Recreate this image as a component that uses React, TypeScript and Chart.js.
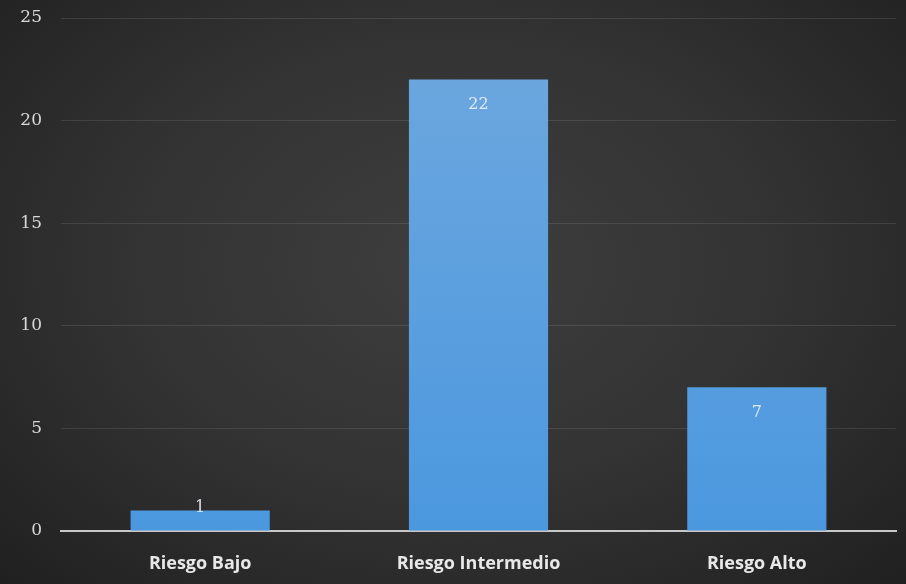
import React, { useEffect, useRef } from "react";
import { Chart, registerables } from "chart.js";

Chart.register(...registerables);

const categories = ["Riesgo Bajo", "Riesgo Intermedio", "Riesgo Alto"];
const values = [1, 22, 7];
const yTicks = [0, 5, 10, 15, 20, 25];

const valueLabelPlugin = {
  id: "valueLabels",
  afterDatasetsDraw(chart: any) {
    const ctx = chart.ctx;
    const meta = chart.getDatasetMeta(0);
    ctx.save();
    ctx.font = "16px 'DejaVu Serif', serif";
    ctx.fillStyle = "rgba(235,242,250,0.9)";
    ctx.textAlign = "center";
    ctx.textBaseline = "middle";
    meta.data.forEach((bar: any, i: number) => {
      const h = bar.base - bar.y;
      const y = h < 30 ? bar.y - 3 : bar.y + 25;
      ctx.fillText(String(values[i]), bar.x, y);
    });
    ctx.restore();
  },
};

export default function App() {
  const ref = useRef<HTMLCanvasElement>(null);
  useEffect(() => {
    if (!ref.current) return;
    const chart = new Chart(ref.current, {
      type: "bar",
      data: {
        labels: categories,
        datasets: [
          {
            data: values,
            backgroundColor: (c: any) => {
              const area = c.chart.chartArea;
              if (!area) return "#5b9bd5";
              const g = c.chart.ctx.createLinearGradient(0, area.top, 0, area.bottom);
              g.addColorStop(0, "#6fa8de");
              g.addColorStop(1, "#4b98df");
              return g;
            },
            borderWidth: 0,
            barPercentage: 0.5,
            categoryPercentage: 1,
          },
        ],
      },
      options: {
        animation: false,
        responsive: false,
        layout: { padding: { top: 18, right: 10, left: 0, bottom: 0 } },
        plugins: { legend: { display: false }, tooltip: { enabled: false } },
        scales: {
          x: {
            grid: { display: false },
            border: { color: "#c8c8c8", width: 2 },
            ticks: {
              color: "#e8e8e8",
              font: { family: "'Open Sans', sans-serif", size: 18, weight: "bold" },
              padding: 14,
            },
            afterFit: (s: any) => {
              s.height = 53;
              s.paddingLeft = 0;
              s.paddingRight = 0;
            },
          },
          y: {
            min: 0,
            max: 25,
            afterBuildTicks: (s: any) => {
              s.ticks = yTicks.map((v) => ({ value: v }));
            },
            grid: { color: "rgba(255,255,255,0.10)", drawTicks: false, lineWidth: 1 },
            border: { display: false },
            ticks: {
              color: "#d8d8d8",
              font: { family: "'DejaVu Serif', serif", size: 17 },
              padding: 19,
            },
            afterFit: (s: any) => {
              s.width = 61;
              s.paddingTop = 0;
              s.paddingBottom = 0;
            },
          },
        },
      },
      plugins: [valueLabelPlugin],
    });
    return () => chart.destroy();
  }, []);
  return (
    <div
      style={{
        position: "fixed",
        left: 0,
        top: 0,
        width: 906,
        height: 584,
        background: "radial-gradient(ellipse at 50% 45%, #3e3e3e 0%, #333333 50%, #202020 100%)",
      }}
    >
      <canvas ref={ref} width={906} height={584} style={{ display: "block" }} />
    </div>
  );
}
